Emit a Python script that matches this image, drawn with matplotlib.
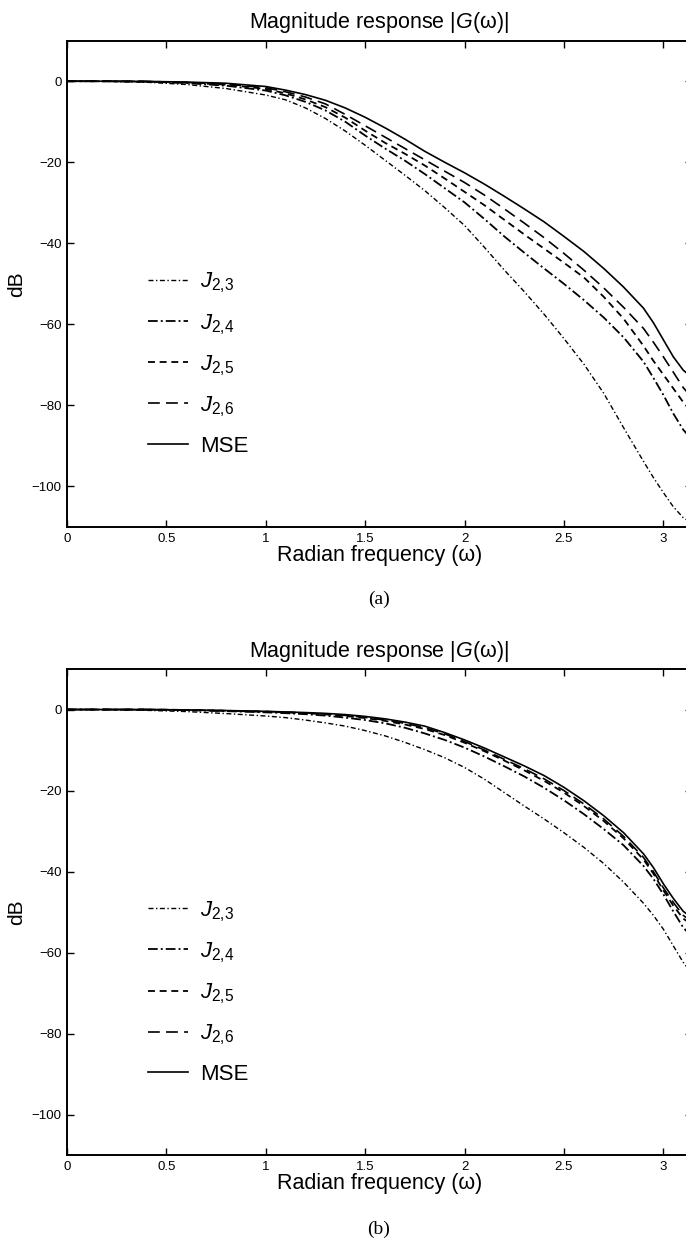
import numpy as np
import matplotlib
matplotlib.use("Agg")
import matplotlib.pyplot as plt

plt.rcParams['font.family'] = ['Liberation Sans', 'DejaVu Sans']
plt.rcParams['mathtext.fontset'] = 'custom'
plt.rcParams['mathtext.rm'] = 'Liberation Sans'
plt.rcParams['mathtext.it'] = 'Liberation Sans:italic'
plt.rcParams['lines.scale_dashes'] = False

# ---------------- data ----------------
omega = [0, 0.2, 0.4, 0.6, 0.8, 1.0, 1.1, 1.2, 1.3, 1.4, 1.5, 1.6, 1.7, 1.8, 1.9,
         2.0, 2.1, 2.2, 2.3, 2.4, 2.5, 2.6, 2.7, 2.8, 2.9, 2.95, 3.0, 3.05, 3.1, 3.1416]

labels = [r'$J_{2{,}3}$', r'$J_{2{,}4}$', r'$J_{2{,}5}$', r'$J_{2{,}6}$', 'MSE']

# (a)
a_J23 = [0, -0.05, -0.25, -0.8, -1.8, -3.4, -4.6, -6.6, -9.2, -12.3, -15.8, -19.5, -23.2, -27.0, -31.2,
         -35.6, -41.0, -46.6, -51.9, -57.5, -63.5, -69.8, -77.0, -85.5, -93.8, -97.8, -101.5, -105.0, -107.7, -109.0]
a_J24 = [0, 0, -0.1, -0.45, -1.1, -2.3, -3.5, -5.1, -7.2, -10.0, -13.4, -16.6, -19.6, -22.9, -26.4,
         -29.9, -34.0, -38.3, -42.3, -46.2, -50.0, -54.0, -58.3, -63.2, -69.2, -73.2, -77.4, -82.0, -86.0, -88.3]
a_J25 = [0, 0, -0.1, -0.35, -0.85, -1.9, -3.0, -4.5, -6.4, -9.0, -12.2, -15.2, -17.9, -20.8, -24.0,
         -27.3, -30.6, -34.2, -37.8, -41.3, -44.8, -48.4, -53.2, -58.6, -65.3, -69.0, -72.4, -75.8, -79.2, -81.5]
a_J26 = [0, 0, -0.05, -0.3, -0.7, -1.6, -2.6, -3.9, -5.6, -8.2, -11.0, -13.8, -16.6, -19.4, -22.2,
         -25.0, -28.1, -31.5, -35.0, -38.6, -42.5, -46.6, -51.0, -55.8, -61.0, -64.4, -68.0, -71.8, -75.6, -78.0]
a_MSE = [0, 0, -0.05, -0.2, -0.5, -1.3, -2.2, -3.3, -4.7, -6.6, -8.9, -11.5, -14.3, -17.3, -20.0,
         -22.6, -25.4, -28.4, -31.5, -34.7, -38.3, -42.0, -46.2, -50.8, -56.0, -59.6, -63.8, -68.0, -71.3, -73.0]

# (b)
b_J23 = [0, -0.05, -0.2, -0.5, -1.0, -1.6, -2.0, -2.6, -3.3, -4.1, -5.2, -6.5, -8.1, -9.9, -11.9,
         -14.3, -17.2, -20.5, -23.8, -27.0, -30.4, -34.0, -38.0, -42.6, -47.8, -50.8, -54.2, -58.3, -62.4, -65.0]
b_J24 = [0, 0, -0.05, -0.15, -0.4, -0.7, -0.9, -1.15, -1.5, -2.0, -2.6, -3.4, -4.5, -5.9, -7.5,
         -9.4, -11.6, -14.0, -16.5, -19.3, -22.4, -25.8, -29.5, -33.5, -38.6, -41.8, -45.6, -49.8, -53.8, -56.0]
b_J25 = [0, 0, 0, -0.1, -0.3, -0.55, -0.7, -0.9, -1.2, -1.6, -2.1, -2.8, -3.7, -4.8, -6.3,
         -8.2, -10.3, -12.6, -15.0, -17.6, -20.5, -23.8, -27.5, -31.8, -37.0, -40.5, -44.6, -48.4, -51.6, -53.0]
b_J26 = [0, 0, 0, -0.1, -0.3, -0.5, -0.65, -0.85, -1.1, -1.45, -1.95, -2.6, -3.4, -4.5, -6.0,
         -7.9, -10.0, -12.3, -14.6, -17.1, -20.0, -23.3, -27.0, -31.3, -36.5, -40.0, -44.0, -47.6, -50.8, -52.3]
b_MSE = [0, 0, 0, -0.1, -0.25, -0.45, -0.6, -0.75, -0.95, -1.25, -1.7, -2.3, -3.1, -4.1, -5.7,
         -7.5, -9.5, -11.7, -13.9, -16.3, -19.2, -22.5, -26.2, -30.4, -35.6, -39.0, -43.0, -46.6, -49.8, -51.3]

xticks = [0, 0.5, 1, 1.5, 2, 2.5, 3]
xticklabels = ['0', '0.5', '1', '1.5', '2', '2.5', '3']
yticks = [0, -20, -40, -60, -80, -100]
yticklabels = ['0', '\u221220', '\u221240', '\u221260', '\u221280', '\u2212100']

styles = [
    dict(linestyle=(0, (3.6, 1.8, 1.0, 1.8)), linewidth=1.0),
    dict(linestyle=(0, (7.0, 2.2, 1.4, 2.2)), linewidth=1.3),
    dict(linestyle=(0, (5.0, 3.4)), linewidth=1.3),
    dict(linestyle=(0, (8.5, 4.5)), linewidth=1.2),
    dict(linestyle='-', linewidth=1.2),
]

W, H = 686, 1238
fig = plt.figure(figsize=(W / 100, H / 100), dpi=100)

def make_axes(top_px, bottom_px, series, caption, caption_y):
    left = 67 / W
    width = (691.5 - 67) / W
    ax = fig.add_axes([left, 1 - bottom_px / H, width, (bottom_px - top_px) / H])
    handles = []
    for ys, lab, st in zip(series, labels, styles):
        h, = ax.plot(omega, ys, color='black', label=lab, **st)
        handles.append(h)
    ax.set_xlim(0, np.pi)
    ax.set_ylim(-110, 10)
    ax.set_xticks(xticks)
    ax.set_xticklabels(xticklabels)
    ax.set_yticks(yticks)
    ax.set_yticklabels(yticklabels)
    ax.tick_params(direction='in', top=True, right=True, length=5, width=1.0,
                   labelsize=9.5, pad=4)
    for sp in ax.spines.values():
        sp.set_linewidth(1.4)
    ax.set_title(r'Magnitude response |$G$(ω)|', fontsize=15.5, pad=9)
    ax.set_xlabel('Radian frequency (ω)', fontsize=15.5, labelpad=0)
    ax.set_ylabel('dB', fontsize=15, labelpad=4)
    ax.legend(handles=handles, loc='upper left', bbox_to_anchor=(0.115, 0.545),
              frameon=False, fontsize=16, handlelength=1.8, handletextpad=0.55,
              labelspacing=0.75, borderaxespad=0)
    fig.text(379 / W, 1 - caption_y / H, caption, ha='center', va='center',
             fontsize=14, family='Liberation Serif')
    return ax

make_axes(40.7, 527, [a_J23, a_J24, a_J25, a_J26, a_MSE], '(a)', 599)
make_axes(669, 1155.3, [b_J23, b_J24, b_J25, b_J26, b_MSE], '(b)', 1229)

fig.savefig('out.png', dpi=100)
